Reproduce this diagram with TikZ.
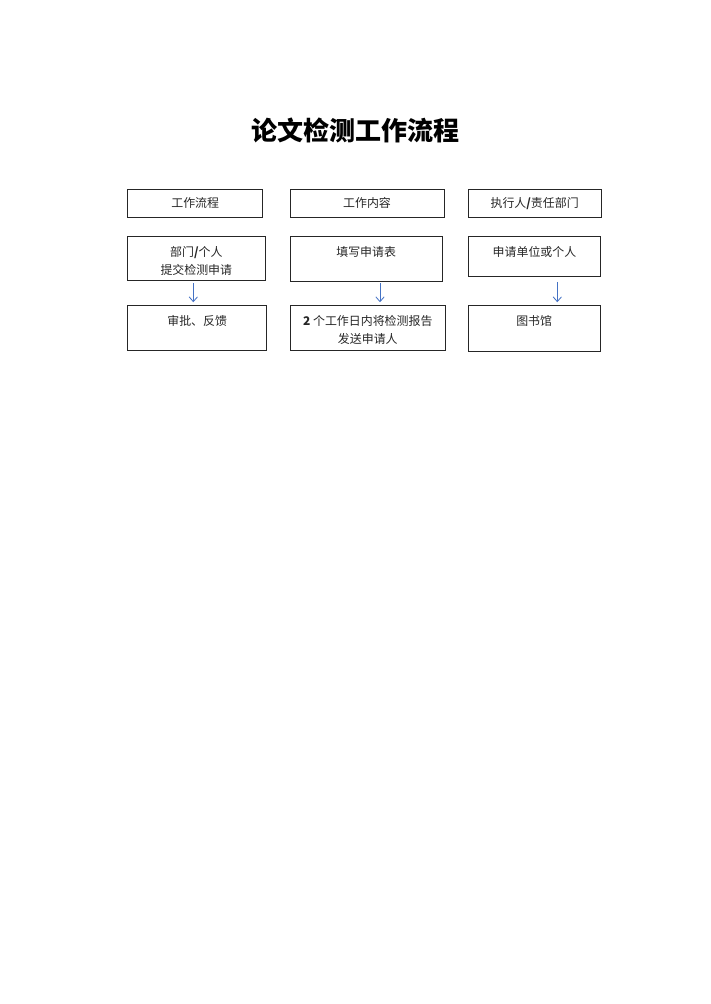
\documentclass[tikz,border=0pt]{standalone}
\usepackage{fontspec}
\setmainfont{Noto Sans CJK SC}
\usetikzlibrary{arrows.meta,fit}
\definecolor{arrowblue}{HTML}{4472C4}
\definecolor{txtgray}{HTML}{262626}
\tikzset{
  box/.style={draw=black!85, line width=0.8pt, inner sep=0pt},
  txt/.style={text=txtgray, font=\fontsize{10pt}{15.6pt}\selectfont, align=center, inner sep=0pt},
  arr/.style={draw=arrowblue, line width=0.7pt, -{Straight Barb[length=4pt,width=7pt]}},
}
\begin{document}
\begin{tikzpicture}[x=0.838pt,y=-0.838pt]
\useasboundingbox (0,0) rectangle (710,1004);
% title
\node[font=\fontsize{21.8pt}{26pt}\selectfont\bfseries, text=black, inner sep=0pt] (title) at (355.5,130) {论文检测工作流程};
% headers
\node[box, fit={(127.7,189.3) (262.7,217.3)}] (h1) {};
\node[box, fit={(290,189.3) (444,217.3)}] (h2) {};
\node[box, fit={(468.3,189.3) (601,217.3)}] (h3) {};
\node[txt] (h1t) at (h1.center) {工作流程};
\node[txt] (h2t) at (h2.center) {工作内容};
\node[txt] (h3t) at (h3.center) {执行人\textbf{/}责任部门};
% row 2
\node[box, fit={(127.7,236) (265,280)}] (b12) {};
\node[box, fit={(290,236) (442.3,281)}] (b22) {};
\node[box, fit={(468.3,236) (600.7,276.7)}] (b32) {};
\node[txt, anchor=north] (b12t) at (196.3,245.8) {部门\textbf{/}个人\\提交检测申请};
\node[txt, anchor=north] (b22t) at (366.2,245.8) {填写申请表};
\node[txt, anchor=north] (b32t) at (534.5,245.8) {申请单位或个人};
% row 3
\node[box, fit={(127.7,305.7) (266.7,350)}] (b13) {};
\node[box, fit={(290,305.7) (445.7,350.7)}] (b23) {};
\node[box, fit={(468.3,305.7) (600,351.7)}] (b33) {};
\node[txt, anchor=north] (b13t) at (197.2,314.8) {审批、反馈};
\node[txt, anchor=north] (b23t) at (367.8,314.8) {\textbf{2} 个工作日内将检测报告\\发送申请人};
\node[txt, anchor=north] (b33t) at (534.2,314.8) {图书馆};
% arrows
\coordinate (c1) at (193.3,0);
\coordinate (c2) at (380,0);
\coordinate (c3) at (557.3,0);
\draw[arr, shorten <=2.3pt, shorten >=2.5pt] (b12.south -| c1) -- (b13.north -| c1);
\draw[arr, shorten <=1.5pt, shorten >=2.5pt] (b22.south -| c2) -- (b23.north -| c2);
\draw[arr, shorten <=4pt, shorten >=2.5pt] (b32.south -| c3) -- (b33.north -| c3);
\end{tikzpicture}
\end{document}
